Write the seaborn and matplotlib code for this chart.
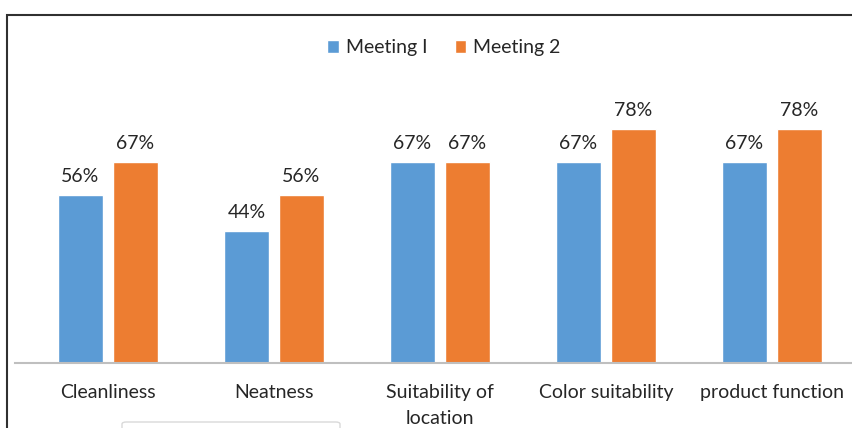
import seaborn as sns
import pandas as pd
import matplotlib.pyplot as plt
from matplotlib.patches import Rectangle, FancyBboxPatch

categories = ['Cleanliness', 'Neatness', 'Suitability of\nlocation',
              'Color suitability', 'product function']
meeting_1 = [56, 44, 67, 67, 67]
meeting_2 = [67, 56, 67, 78, 78]
series = ['Meeting I', 'Meeting 2']
colors = ['#5B9BD5', '#ED7D31']

data = pd.DataFrame({
    'category': categories * 2,
    'value': meeting_1 + meeting_2,
    'meeting': [series[0]] * len(categories) + [series[1]] * len(categories),
})

sns.set_style('white')
plt.rcParams['font.family'] = ['Lato', 'DejaVu Sans']

W, H = 853, 428
fig = plt.figure(figsize=(W / 100, H / 100), dpi=100)

# axes placed in pixel terms: baseline at y=363, category pitch ~166px
left, right, bottom, top = 15, 855, 363, 80
ax = fig.add_axes([left / W, (H - bottom) / H, (right - left) / W, (bottom - top) / H])

sns.barplot(data=data, x='category', y='value', hue='meeting',
            palette=colors, width=0.663, gap=0.18, ax=ax,
            saturation=1, legend=True)

for cont in ax.containers:
    ax.bar_label(cont, fmt='%d%%', padding=7, fontsize=14, color='#262626')

ax.set_xlim(-0.56, 4.5)
ax.set_ylim(0, (bottom - top) / 3.0)
ax.set_xlabel('')
ax.set_ylabel('')
ax.set_yticks([])
ax.tick_params(axis='x', length=0, pad=15, labelsize=14, labelcolor='#262626')
for lbl in ax.get_xticklabels():
    lbl.set_linespacing(1.65)
for s in ['top', 'left', 'right']:
    ax.spines[s].set_visible(False)
ax.spines['bottom'].set_color('#BFBFBF')
ax.spines['bottom'].set_linewidth(1.5)

handles, labels = ax.get_legend_handles_labels()
ax.legend_.remove()
fig.legend(handles, labels, loc='center', bbox_to_anchor=(444 / W, 1 - 48 / H),
           ncol=2, frameon=False, fontsize=14, handlelength=0.6,
           handleheight=0.6, handletextpad=0.35, columnspacing=1.4,
           labelcolor='#262626')

# outer chart frame (cropped on right and bottom)
fig.patches.append(Rectangle((7 / W, -0.2), 1.2, 1 - 15 / H + 0.2,
                             transform=fig.transFigure, fill=False,
                             edgecolor='#303030', linewidth=1.5))
# partially visible box at the bottom
fig.patches.append(FancyBboxPatch((122 / W, -0.1), 218 / W, 0.1 + 6 / H,
                                  boxstyle='round,pad=0,rounding_size=0.005',
                                  transform=fig.transFigure, fill=False,
                                  edgecolor='#D9D9D9', linewidth=1))

fig.savefig('out.png', dpi=100)
